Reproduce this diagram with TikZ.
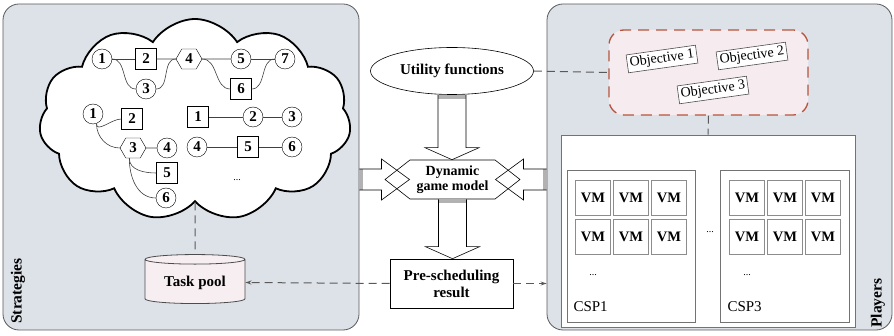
\documentclass[tikz,border=0pt]{standalone}
\usepackage{fontspec}
\setmainfont{Liberation Serif}
\usetikzlibrary{shapes.geometric, shapes.symbols, arrows.meta, calc, positioning}

\definecolor{panelgray}{RGB}{221,226,233}
\definecolor{poolpink}{RGB}{247,238,242}
\definecolor{objred}{RGB}{184,84,62}
\definecolor{objpink}{RGB}{246,236,240}

% hollow block arrow pointing down: #1 base, #2 tip
\newcommand{\vblock}[2]{%
  \fill[gray!60] let \p1=(#1) in (\x1-14pt,\y1) rectangle (\x1+14pt,\y1-4pt);
  \draw[blockline] let \p1=(#1), \p2=(#2) in
    (\x1-14pt,\y1) -- (\x1-14pt,\y2+12pt) -- (\x1-27pt,\y2+12pt) -- (\x1,\y2)
    -- (\x1+27pt,\y2+12pt) -- (\x1+14pt,\y2+12pt) -- (\x1+14pt,\y1);}
% hollow block arrow sideways: #1 base, #2 tip, #3 signed head length
\newcommand{\hblock}[3]{%
  \fill[gray!60] let \p1=(#1) in (\x1,\y1-10.5pt) rectangle ({\x1+#3/7},{\y1+10.5pt});
  \draw[blockline] let \p1=(#1), \p2=(#2) in
    (\x1,\y1+10.5pt) -- ({\x2-#3},\y1+10.5pt) -- ({\x2-#3},\y1+20.5pt) -- (\x2,\y1)
    -- ({\x2-#3},\y1-20.5pt) -- ({\x2-#3},\y1-10.5pt) -- (\x1,\y1-10.5pt);}

\begin{document}
\begin{tikzpicture}[x=1pt, y=-1pt,
    panel/.style={rectangle, draw=black!65, line width=0.8pt, fill=panelgray, rounded corners=16pt},
    side/.style={rotate=90, font=\fontsize{15.5}{15.5}\selectfont\bfseries},
    circ/.style={circle, draw, fill=white, minimum size=20pt, inner sep=0pt, font=\fontsize{15}{15}\selectfont\bfseries},
    sq/.style={rectangle, draw, fill=white, minimum size=21pt, inner sep=0pt, font=\fontsize{15}{15}\selectfont\bfseries},
    hexa/.style={signal, signal to=east and west, signal pointer angle=120, draw, fill=white, minimum width=26pt, minimum height=20pt, inner sep=0pt, font=\fontsize{15}{15}\selectfont\bfseries},
    link/.style={draw=black!75, line width=0.6pt},
    label/.style={font=\fontsize{15}{17}\selectfont\bfseries, align=center},
    vm/.style={rectangle, draw=black!45, line width=1.2pt, fill=white, minimum size=35pt, inner sep=0pt, font=\fontsize{14.5}{14.5}\selectfont\bfseries},
    csp/.style={rectangle, draw=black!55, line width=0.8pt, fill=white},
    objective/.style={rectangle, draw=black!70, line width=0.6pt, fill=white, rotate=8, inner sep=2pt, minimum width=70pt, minimum height=18pt, font=\fontsize{14}{14}\selectfont},
    dashline/.style={draw=black!65, line width=1pt, dash pattern=on 8pt off 5pt},
    blockline/.style={draw=black, line width=0.6pt}
  ]
  \useasboundingbox (0,0) rectangle (894,336);

  % panels
  \node[panel, minimum width=356pt, minimum height=326pt] (lpanel) at (181,167) {};
  \node[panel, minimum width=345pt, minimum height=326pt] (rpanel) at (719.5,167) {};
  \node[side] (strat) at (18,291) {Strategies};
  \node[side] (play) at (878,303) {Players};

  % strategy cloud
  \node[cloud, cloud puffs=11, cloud puff arc=115, aspect=1.55, draw, line width=1.8pt, fill=white,
        minimum width=312pt, minimum height=202pt] (cloud) at (195,120) {};

  % first task graph
  \node[circ] (a1) at (102,59) {1};
  \node[sq] (a2) at (146,59) {2};
  \node[circ] (a3) at (146,89) {3};
  \node[hexa] (a4) at (189,59) {4};
  \node[circ] (a5) at (241,59) {5};
  \node[sq] (a6) at (241,89) {6};
  \node[circ] (a7) at (285,59) {7};
  \draw[link] (a1) -- (a2);
  \draw[link] (a1.east) to[out=0, in=180] (a3.west);
  \draw[link] (a2) -- (a4);
  \draw[link] (a3.east) to[out=0, in=180] (a4.west);
  \draw[link] (a4) -- (a5);
  \draw[link] (a4.east) to[out=0, in=180] (a6.west);
  \draw[link] (a5) -- (a7);
  \draw[link] (a6.east) to[out=0, in=180] (a7.west);

  % second task graph
  \node[circ] (b1) at (93,114) {1};
  \node[sq] (b2) at (132,119) {2};
  \node[hexa] (b3) at (133,148) {3};
  \node[circ] (b4) at (167,148) {4};
  \node[sq] (b5) at (167,173) {5};
  \node[circ] (b6) at (166,198) {6};
  \draw[link] (b1.-70) to[out=-90, in=180] (b2.west);
  \draw[link] (b1.-70) to[out=-90, in=180] (b3.west);
  \draw[link] (b3) -- (b4);
  \draw[link] (b3.250) to[out=-90, in=180] (b5.west);
  \draw[link] (b3.250) to[out=-90, in=180] (b6.west);

  % chains
  \node[sq] (c1) at (198,117) {1};
  \node[circ] (c2) at (253,117) {2};
  \node[circ] (c3) at (292,117) {3};
  \draw[link] (c1) -- (c2) -- (c3);
  \node[circ] (d4) at (197,147) {4};
  \node[sq] (d5) at (248,147) {5};
  \node[circ] (d6) at (292,147) {6};
  \draw[link] (d4) -- (d5) -- (d6);
  \node (moretasks) at (237,180) {...};

  % task pool
  \node[cylinder, shape border rotate=90, aspect=0.14, draw=black!70, line width=0.8pt, fill=poolpink,
        minimum width=100pt, minimum height=49pt, label] (pool) at (195,282.5) {Task pool};
  \draw[dashline] (cloud.south) -- (pool.north);

  % game model
  \node[ellipse, draw, line width=0.6pt, fill=white, minimum width=163pt, minimum height=47pt, label] (util) at (452,71) {Utility functions};
  \node[signal, signal to=east and west, signal pointer angle=76, draw, line width=0.6pt, fill=white,
        minimum width=135pt, minimum height=39pt, inner sep=0pt, label, font=\fontsize{14}{15.5}\selectfont\bfseries] (game) at (452.5,179.5) {Dynamic\\game model};
  \node[rectangle, draw, line width=0.6pt, fill=white, minimum width=123pt, minimum height=49pt, inner sep=0pt, label] (pre) at (451.5,283.5) {Pre-scheduling\\result};

  \vblock{util.south}{game.north}
  \vblock{game.south}{pre.north}
  \coordinate (lbase) at (lpanel.east |- game.center);
  \coordinate (rbase) at (rpanel.west |- game.center);
  \coordinate (ltip) at ($(game.west)+(25,0)$);
  \coordinate (rtip) at ($(game.east)+(-25,0)$);
  \hblock{lbase}{ltip}{28pt}
  \hblock{rbase}{rtip}{-28pt}

  \draw[dashline, -{Stealth[length=6pt, width=4pt]}] (pre.west) -- (pool.east);
  \draw[dashline, -{Stealth[length=6pt, width=4pt]}] (pre.east) -- (rpanel.west |- pre.east);

  % objectives
  \node[rectangle, draw=objred, line width=1.3pt, dash pattern=on 11pt off 7pt, fill=objpink, rounded corners=15pt,
        minimum width=199pt, minimum height=85pt] (obj) at (708.5,72.5) {};
  \node[objective] (o1) at (662,59) {Objective 1};
  \node[objective] (o2) at (752,56) {Objective 2};
  \node[objective] (o3) at (713,90) {Objective 3};
  \draw[dashline] (util.east) -- (obj.west);

  % cloud service providers
  \node[csp, minimum width=294pt, minimum height=192pt] (players) at (708,231) {};
  \draw[dashline] (obj.south) -- (players.north);
  \node[csp, minimum width=128pt, minimum height=152pt] (csp1) at (631,246) {};
  \node[csp, minimum width=129pt, minimum height=152pt] (csp3) at (784.5,246) {};
  \foreach \cx/\p in {593/1, 631/1, 669/1, 747/3, 785/3, 823/3}
    \foreach \ry in {198, 237}
      \node[vm] (vm\p-\cx-\ry) at (\cx,\ry) {VM};
  \node (dots1) at (593,275) {...};
  \node (dots3) at (747,275) {...};
  \node (dotsmid) at (710,232) {...};
  \node[anchor=west, font=\fontsize{15}{15}\selectfont] (lab1) at (570,307) {CSP1};
  \node[anchor=west, font=\fontsize{15}{15}\selectfont] (lab3) at (724,307) {CSP3};
\end{tikzpicture}
\end{document}
